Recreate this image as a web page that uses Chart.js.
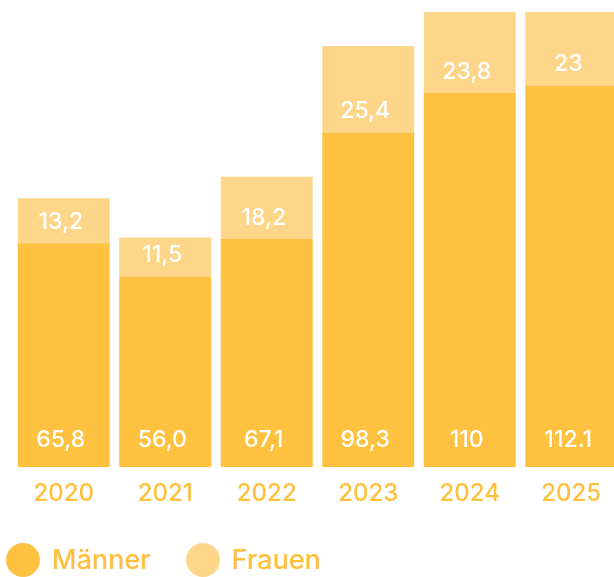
<!DOCTYPE html>
<html>
<head>
<meta charset="utf-8">
<script src="https://cdn.jsdelivr.net/npm/chart.js@4"></script>
<style>
  html, body { margin: 0; padding: 0; background: #fff; overflow: hidden; }
  body { width: 614px; height: 577px; position: relative; font-family: Inter, "Noto Sans", sans-serif; }
  #wrap { position: absolute; left: 0; top: 0; width: 622px; height: 520px; }
  #legend { position: absolute; left: 6px; top: 543px; display: flex; align-items: center; }
  .item { display: flex; align-items: center; margin-right: 35px; }
  .dot { width: 34px; height: 34px; border-radius: 50%; margin-right: 12px; }
  .txt { font-size: 27px; font-weight: 500; color: #FEC13E; line-height: 34px; }
</style>
</head>
<body>
<div id="wrap"><canvas id="chart"></canvas></div>
<div id="legend"></div>
<script>
// data
const years = ['2020', '2021', '2022', '2023', '2024', '2025'];
const maenner = [65.8, 56.0, 67.1, 98.3, 110, 112.1];
const frauen = [13.2, 11.5, 18.2, 25.4, 23.8, 23];
const maennerLabels = ['65,8', '56,0', '67,1', '98,3', '110', '112.1'];
const frauenLabels = ['13,2', '11,5', '18,2', '25,4', '23,8', '23'];
const yMax = 133.7;

const darkColor = '#FEC240';
const lightColor = '#FDD68A';

// draws the value labels near the bottom of each segment
const valueLabels = {
    id: 'valueLabels',
    afterDatasetsDraw(chart) {
        const ctx = chart.ctx;
        const area = chart.chartArea;
        ctx.save();
        ctx.beginPath();
        ctx.rect(area.left, area.top, area.right - area.left, area.bottom - area.top);
        ctx.clip();
        ctx.fillStyle = '#fff';
        ctx.font = '500 23px Inter, "Noto Sans", sans-serif';
        ctx.textAlign = 'center';
        ctx.textBaseline = 'middle';
        chart.data.datasets.forEach((ds, i) => {
            const meta = chart.getDatasetMeta(i);
            meta.data.forEach((bar, j) => {
                ctx.fillText(ds.valueLabels[j], bar.x - 3, bar.base - ds.labelOffset);
            });
        });
        ctx.restore();
    }
};

const ctx = document.getElementById('chart').getContext('2d');
const chart = new Chart(ctx, {
    type: 'bar',
    data: {
        labels: years,
        datasets: [
            {
                label: 'Männer',
                data: maenner,
                valueLabels: maennerLabels,
                labelOffset: 27,
                backgroundColor: darkColor,
                borderWidth: 0
            },
            {
                label: 'Frauen',
                data: frauen,
                valueLabels: frauenLabels,
                labelOffset: 21,
                backgroundColor: lightColor,
                borderWidth: 0
            }
        ]
    },
    options: {
        responsive: true,
        maintainAspectRatio: false,
        animation: false,
        layout: { padding: { top: 12, left: 13, right: 0, bottom: 0 } },
        plugins: {
            legend: { display: false },
            tooltip: { enabled: false }
        },
        datasets: {
            bar: { categoryPercentage: 1, barPercentage: 0.906 }
        },
        scales: {
            x: {
                stacked: true,
                grid: { display: false, drawTicks: false },
                border: { display: false },
                ticks: {
                    color: '#FEC13E',
                    padding: 12,
                    font: { family: 'Inter', size: 24, weight: '500' },
                    maxRotation: 0
                }
            },
            y: {
                stacked: true,
                display: false,
                min: 0,
                max: yMax
            }
        }
    },
    plugins: [valueLabels]
});

// legend built from the datasets
const legend = document.getElementById('legend');
chart.data.datasets.forEach(ds => {
    const item = document.createElement('div');
    item.className = 'item';
    const dot = document.createElement('span');
    dot.className = 'dot';
    dot.style.background = ds.backgroundColor;
    const txt = document.createElement('span');
    txt.className = 'txt';
    txt.textContent = ds.label;
    item.appendChild(dot);
    item.appendChild(txt);
    legend.appendChild(item);
});
</script>
</body>
</html>
